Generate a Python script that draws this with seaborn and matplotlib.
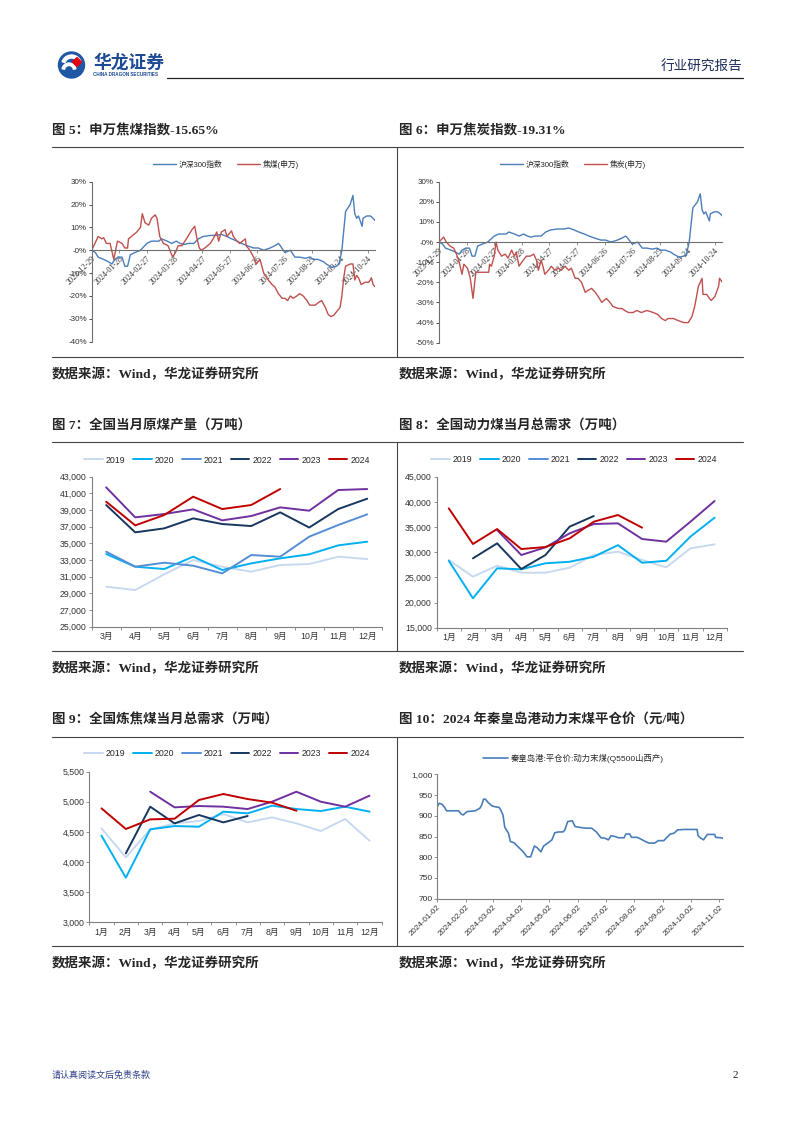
import numpy as np
import pandas as pd
import matplotlib
matplotlib.use('Agg')
import matplotlib.pyplot as plt
import matplotlib.patches as mpatches
from matplotlib.lines import Line2D
from matplotlib.ticker import FuncFormatter, FixedLocator
import seaborn as sns

sns.set_style('ticks')
plt.rcParams['font.family'] = ['Liberation Sans', 'Noto Sans CJK SC', 'DejaVu Sans']
plt.rcParams['axes.unicode_minus'] = False

# ---------------- 数据 ----------------
# 图5/图6: 日期为 2023-12-29 起的天数, 数值为累计涨跌幅(%)
ts_base = '2023-12-29'
ts_ticks = ['2023-12-29', '2024-01-28', '2024-02-27', '2024-03-28', '2024-04-27', '2024-05-27',
            '2024-06-26', '2024-07-26', '2024-08-25', '2024-09-24', '2024-10-24']
hs300_days = [0, 4, 7, 13, 18, 22, 25, 29, 33, 36, 39, 42, 47, 53, 60, 65, 73, 76, 82, 87, 92, 96, 100,
              105, 111, 116, 121, 129, 136, 141, 147, 152, 158, 163, 169, 176, 181, 187, 194, 199, 203,
              205, 210, 216, 221, 226, 232, 237, 241, 246, 252, 255, 261, 266, 269, 272, 276, 281, 284,
              286, 288, 290, 294, 295, 299, 303, 306, 308]
hs300_vals = [0, -1, -3, -4, -5, -6, -4, -3, -3, -7, -7, -2, -1, 0, 3, 4, 4, 5, 4, 3, 4, 3, 2.5,
              3, 3, 5, 6, 6.5, 6.5, 7, 6, 5, 4, 3, 2, 1, 1, 0, 1, 2, 3,
              2, -1, 0, -3, -3, -3.5, -3, -4, -4, -5, -6, -7.5, -7, -6, 0, 17, 20, 24,
              16, 14, 15, 10.5, 14, 15, 15, 14, 13]
jm_days = [0, 7, 11, 13, 16, 20, 24, 28, 33, 36, 39, 40, 49, 53, 55, 58, 62, 65, 69, 71, 74, 78, 83,
           88, 91, 94, 98, 103, 109, 112, 114, 117, 119, 123, 129, 132, 136, 138, 141, 145, 147, 152,
           154, 158, 161, 167, 168, 172, 176, 179, 183, 187, 192, 196, 199, 203, 207, 210, 213, 216,
           219, 223, 226, 230, 234, 237, 243, 246, 250, 254, 257, 260, 263, 266, 270, 272, 274, 276,
           281, 284, 286, 288, 290, 293, 297, 301, 303, 304, 306, 308]
jm_vals = [0, 6, 5, 5.5, 3, 3, -4, 4, 3, 1, 1, 5, 8, 10, 16, 12, 11, 14, 15.5, 14, 6, 3, 2,
           -3, -1, 2, 2, 5, 9, 10.5, 6, 1, 0, 1, 3, 5, 8, 4, 8, 9, 6, 8.5,
           6, 4, 3, 5, 2, 0, -3, -6, -4, -10, -13, -15, -16, -19, -21, -21, -22, -20,
           -21, -20, -19, -20, -22, -24, -24, -23, -22, -25, -28, -29, -28.5, -27, -25, -20, -12, -7,
           -6, -6, -13, -11, -12, -15, -14, -14, -13, -12, -15, -16]
jt_days = [0, 5, 8, 12, 16, 19, 22, 25, 27, 31, 34, 37, 40, 45, 50, 54, 55, 57, 60, 62, 64, 68, 72,
           75, 79, 82, 84, 87, 90, 95, 99, 103, 106, 108, 111, 113, 115, 119, 122, 126, 130, 133,
           137, 141, 144, 148, 151, 155, 159, 162, 166, 170, 173, 177, 182, 186, 189, 195, 199, 202,
           206, 211, 215, 220, 226, 233, 238, 242, 246, 249, 255, 260, 266, 271, 275, 278, 282, 286,
           287, 291, 294, 296, 300, 304, 305, 308]
jt_vals = [0, 2.5, 0, -2, -3, -6, -10, -16, -11, -13, -18, -28, -15, -15, -15, -15, -11, -12, -7, 0,
           -4, -7, -6, -8, -4, -7, -5, -12, -10, -7, -7, -6, -9, -14, -9, -12, -16, -14, -12, -14,
           -13, -14, -12, -14, -13, -18, -18, -20, -25, -24, -23, -25, -27, -30, -28, -30, -32, -33,
           -33, -34, -35, -35, -34, -35, -34, -35, -36, -38, -39, -38, -38, -39, -40, -40, -37, -32,
           -22, -18, -26, -26, -28, -29, -27, -22, -18, -20]

# 图7-图9: 月度数据
years = ['2019', '2020', '2021', '2022', '2023', '2024']
year_colors = ['#c6d9f0', '#00b0f0', '#558ed5', '#17375e', '#7030a0', '#c00000']

months_7 = ['3月', '4月', '5月', '6月', '7月', '8月', '9月', '10月', '11月', '12月']
coal_output = {
    '2019': [29800, 29400, 31280, 33000, 32200, 31600, 32400, 32520, 33400, 33120],
    '2020': [33720, 32200, 31920, 33400, 31800, 32600, 33200, 33680, 34760, 35200],
    '2021': [34000, 32200, 32680, 32320, 31400, 33600, 33400, 35800, 37200, 38480],
    '2022': [39600, 36320, 36800, 38000, 37320, 37080, 38720, 36900, 39120, 40360],
    '2023': [41720, 38120, 38520, 39080, 37760, 38280, 39320, 38920, 41400, 41520],
    '2024': [40000, 37160, 38400, 40600, 39120, 39600, 41520, None, None, None],
}

months_12 = ['1月', '2月', '3月', '4月', '5月', '6月', '7月', '8月', '9月', '10月', '11月', '12月']
thermal_demand = {
    '2019': [28450, 25140, 27320, 25930, 25930, 26930, 29440, 30100, 28450, 27000, 30770, 31560],
    '2020': [28300, 20840, 26800, 26600, 27800, 28100, 29100, 31400, 27900, 28300, 33100, 36860],
    '2021': [None] * 12,
    '2022': [None, 28780, 31760, 26660, 29440, 35070, 37190, None, None, None, None, None],
    '2023': [None, None, 34400, 29440, 30960, 33750, 35600, 35730, 32620, 32090, 36060, 40170],
    '2024': [38710, 31630, 34600, 30630, 31030, 32750, 36060, 37390, 34870, None, None, None],
}
coking_demand = {
    '2019': [4558, 4075, 4541, 4640, 4680, 4796, 4657, 4740, 4640, 4513, 4713, 4353],
    '2020': [4436, 3737, 4541, 4596, 4585, 4835, 4807, 4935, 4879, 4846, 4918, 4835],
    '2021': [None] * 12,
    '2022': [None, 4142, 4918, 4640, 4780, 4657, 4763, None, None, None, None, None],
    '2023': [None, None, 5167, 4907, 4929, 4918, 4879, 5001, 5167, 5001, 4918, 5101],
    '2024': [4890, 4547, 4707, 4718, 5029, 5129, 5045, 4985, 4851, None, None, None],
}

# 图10: 2024-01-02 起的天数, 价格(元/吨)
qhd_base = '2024-01-02'
qhd_ticks = ['2024-01-02', '2024-02-02', '2024-03-02', '2024-04-02', '2024-05-02', '2024-06-02',
             '2024-07-02', '2024-08-02', '2024-09-02', '2024-10-02', '2024-11-02']
qhd_days = [0, 2, 5, 8, 10, 23, 26, 28, 32, 41, 46, 48, 50, 52, 55, 59, 62, 67, 69, 71, 73, 77, 79,
            83, 87, 93, 97, 101, 105, 108, 112, 115, 120, 124, 127, 131, 136, 138, 141, 146, 149,
            154, 161, 167, 172, 177, 181, 185, 188, 192, 196, 202, 204, 208, 210, 216, 220, 225,
            229, 235, 239, 245, 247, 252, 256, 260, 267, 278, 281, 282, 285, 288, 292, 300, 301,
            306, 309]
qhd_price = [922, 930, 928, 920, 912, 912, 904, 902, 910, 912, 918, 926, 940, 940, 932, 924, 922, 920,
             912, 902, 872, 858, 838, 835, 826, 813, 801, 801, 827, 823, 813, 827, 835, 842, 859,
             861, 861, 866, 886, 888, 874, 872, 870, 870, 861, 847, 846, 842, 852, 850, 847, 847,
             856, 856, 848, 848, 844, 838, 834, 834, 840, 840, 845, 856, 858, 866, 867, 867, 867,
             852, 846, 842, 855, 855, 848, 847, 846]

# ---------------- 画布 ----------------
W, H = 802, 1133
fig = plt.figure(figsize=(W / 100, H / 100), dpi=100)


def box(x0, y0, x1, y1):
    return [x0 / W, 1 - y1 / H, (x1 - x0) / W, (y1 - y0) / H]


bg = fig.add_axes([0, 0, 1, 1])
bg.set_xlim(0, W)
bg.set_ylim(H, 0)
bg.axis('off')

serif_cjk = ['Liberation Serif', 'Noto Sans CJK SC']

# 页眉
bg.add_patch(mpatches.Circle((71.5, 65), 13, color='#1f57a5'))
bg.add_patch(mpatches.Wedge((71.5, 65), 10, 200, 340, width=3, color='white'))
bg.add_patch(mpatches.Wedge((69, 70), 7, 190, 350, width=2.5, color='white'))
bg.add_patch(mpatches.RegularPolygon((77, 62), 4, radius=4.5, color='#e60012'))
bg.text(93, 63, '华龙证券', fontsize=12.8, fontweight='bold', color='#1d4a94', va='center',
        family=['Noto Sans CJK SC'])
bg.text(93, 74.5, 'CHINA DRAGON SECURITIES', fontsize=3.3, fontweight='bold', color='#1d4a94', va='center')
bg.plot([167, 743], [77.7, 77.7], color='#222222', lw=0.9)
bg.text(742, 67, '行业研究报告', fontsize=9.8, color='#1f2d5a', ha='right', va='center',
        family=['Noto Sans CJK SC'])

# 页脚
bg.text(52, 1075, '请认真阅读文后免责条款', fontsize=6.5, color='#34448c', va='center', family=['Noto Sans CJK SC'])
bg.text(738, 1075, '2', fontsize=8, color='#222222', ha='right', va='center', family=serif_cjk)

# 表格线、标题、来源
rows = [(131, 146.7, 357, 374), (425, 442, 651, 668), (720, 736.5, 946, 963)]
titles = [('图 5：申万焦煤指数-15.65%', '图 6：申万焦炭指数-19.31%'),
          ('图 7：全国当月原煤产量（万吨）', '图 8：全国动力煤当月总需求（万吨）'),
          ('图 9：全国炼焦煤当月总需求（万吨）', '图 10：2024 年秦皇岛港动力末煤平仓价（元/吨）')]
for (ty, top, bot, sy), (t1, t2) in zip(rows, titles):
    bg.plot([52, 743], [top, top], color='#444444', lw=0.8)
    bg.plot([52, 743], [bot, bot], color='#444444', lw=0.8)
    bg.plot([397, 397], [top, bot], color='#444444', lw=0.8)
    bg.text(52, ty, t1, fontsize=9.7, fontweight='bold', va='center', family=serif_cjk)
    bg.text(399, ty, t2, fontsize=9.7, fontweight='bold', va='center', family=serif_cjk)
    bg.text(52, sy, '数据来源：Wind，华龙证券研究所', fontsize=9.7, fontweight='bold', va='center', family=serif_cjk)
    bg.text(399, sy, '数据来源：Wind，华龙证券研究所', fontsize=9.7, fontweight='bold', va='center', family=serif_cjk)

axis_gray = '#7f7f7f'
tick_color = '#333333'


def legend_at(ax, handles, labels, cx, cy, ncol, fs=5, hl=3.0, cs=1.6):
    ax.legend(handles, labels, loc='center', bbox_to_anchor=(cx / W, 1 - cy / H),
              bbox_transform=fig.transFigure, ncol=ncol, frameon=False, fontsize=fs,
              handlelength=hl, columnspacing=cs, handletextpad=0.35, borderpad=0)


# ---------------- 图5 / 图6 ----------------
def index_chart(rect, red_days, red_vals, red_label, ylo, yticks, leg_cx):
    ax = fig.add_axes(rect)
    ax.set_facecolor('none')
    base = pd.Timestamp(ts_base)
    blue = pd.DataFrame({'date': base + pd.to_timedelta(hs300_days, unit='D'),
                         'v': np.array(hs300_vals) / 100})
    red = pd.DataFrame({'date': base + pd.to_timedelta(red_days, unit='D'),
                        'v': np.array(red_vals) / 100})
    sns.lineplot(data=blue, x='date', y='v', ax=ax, color='#4a7ebb', lw=1.0, legend=False)
    sns.lineplot(data=red, x='date', y='v', ax=ax, color='#c0504d', lw=1.0, legend=False)
    ax.set_xlim(base, base + pd.Timedelta(days=308))
    ax.set_ylim(ylo, 0.30)
    ax.set_xlabel('')
    ax.set_ylabel('')
    for s in ['top', 'right']:
        ax.spines[s].set_visible(False)
    ax.spines['bottom'].set_position(('data', 0))
    ax.spines['bottom'].set_color('#6f6f6f')
    ax.spines['left'].set_color('#6f6f6f')
    ax.spines['bottom'].set_linewidth(0.8)
    ax.spines['left'].set_linewidth(0.8)
    ticks = pd.to_datetime(ts_ticks)
    ax.set_xticks(ticks)
    ax.set_xticklabels(ts_ticks, rotation=45, ha='right', va='top', rotation_mode='anchor',
                       fontsize=5.8, color=tick_color, family=serif_cjk)
    ax.set_yticks(yticks)
    ax.yaxis.set_major_formatter(FuncFormatter(lambda v, p: f'{v * 100:.0f}%'))
    ax.tick_params(axis='y', labelsize=5.8, colors=tick_color, length=2, width=0.6, pad=1.5)
    ax.tick_params(axis='x', length=2, width=0.6, pad=1, color=axis_gray)
    handles = [Line2D([], [], color='#4a7ebb', lw=1.0), Line2D([], [], color='#c0504d', lw=1.0)]
    legend_at(ax, handles, ['沪深300指数', red_label], leg_cx, 164, 2, fs=5.6, hl=3.0, cs=1.8)
    return ax


index_chart(box(91.7, 181.7, 375, 341.7), jm_days, jm_vals, '焦煤(申万)', -0.40,
            np.arange(-0.4, 0.31, 0.1), 226)
index_chart(box(439, 181.7, 722.3, 342.7), jt_days, jt_vals, '焦炭(申万)', -0.50,
            np.arange(-0.5, 0.31, 0.1), 573)


# ---------------- 图7 / 图8 / 图9 ----------------
def month_chart(rect, months, series, ylim, ystep, leg_cx, leg_cy):
    ax = fig.add_axes(rect)
    ax.set_facecolor('none')
    for yr, col in zip(years, year_colors):
        df = pd.DataFrame({'m': np.arange(len(months)), 'v': series[yr]}).dropna()
        if len(df):
            sns.lineplot(data=df, x='m', y='v', ax=ax, color=col, lw=1.4, legend=False)
    ax.set_xlim(-0.5, len(months) - 0.5)
    ax.set_ylim(*ylim)
    ax.set_xlabel('')
    ax.set_ylabel('')
    for s in ['top', 'right']:
        ax.spines[s].set_visible(False)
    for s in ['left', 'bottom']:
        ax.spines[s].set_color(axis_gray)
        ax.spines[s].set_linewidth(0.8)
    ax.set_xticks(np.arange(len(months)))
    ax.set_xticklabels(months, fontsize=6.3, color=tick_color)
    ax.xaxis.set_minor_locator(FixedLocator(np.arange(-0.5, len(months), 1.0)))
    ax.tick_params(axis='x', which='major', length=0, pad=4)
    ax.tick_params(axis='x', which='minor', length=2.5, width=0.6, color=axis_gray)
    ax.set_yticks(np.arange(ylim[0], ylim[1] + 1, ystep))
    ax.yaxis.set_major_formatter(FuncFormatter(lambda v, p: f'{v:,.0f}'))
    ax.tick_params(axis='y', labelsize=6.3, colors=tick_color, length=2, width=0.6, pad=1.5)
    ax.tick_params(axis='y', color=axis_gray)
    handles = [Line2D([], [], color=c, lw=1.4) for c in year_colors]
    legend_at(ax, handles, years, leg_cx, leg_cy, 6, fs=6.3, hl=2.1, cs=0.9)
    return ax


month_chart(box(91.7, 476.7, 381.7, 626.7), months_7, coal_output, (25000, 43000), 2000, 227, 460)
month_chart(box(436.7, 476.7, 726.7, 627.7), months_12, thermal_demand, (15000, 45000), 5000, 574, 459.5)
month_chart(box(89.3, 771.7, 381.7, 922), months_12, coking_demand, (3000, 5500), 500, 227, 754)

# ---------------- 图10 ----------------
ax = fig.add_axes(box(437.3, 774.3, 723, 898.7))
ax.set_facecolor('none')
qbase = pd.Timestamp(qhd_base)
qdf = pd.DataFrame({'date': qbase + pd.to_timedelta(qhd_days, unit='D'), 'v': qhd_price})
sns.lineplot(data=qdf, x='date', y='v', ax=ax, color='#4a7ebb', lw=1.2, legend=False)
ax.set_xlim(qbase, qbase + pd.Timedelta(days=309))
ax.set_ylim(700, 1000)
ax.set_xlabel('')
ax.set_ylabel('')
for s in ['top', 'right']:
    ax.spines[s].set_visible(False)
for s in ['left', 'bottom']:
    ax.spines[s].set_color(axis_gray)
    ax.spines[s].set_linewidth(0.8)
ax.set_xticks(pd.to_datetime(qhd_ticks))
ax.set_xticklabels(qhd_ticks, rotation=45, ha='right', va='top', rotation_mode='anchor',
                   fontsize=5.8, color=tick_color)
ax.set_yticks(np.arange(700, 1001, 50))
ax.yaxis.set_major_formatter(FuncFormatter(lambda v, p: f'{v:,.0f}'))
ax.tick_params(axis='y', labelsize=6.0, colors=tick_color, length=2, width=0.6, pad=1.5)
ax.tick_params(axis='both', color=axis_gray)
ax.tick_params(axis='x', length=2, width=0.6, pad=1.5)
legend_at(ax, [Line2D([], [], color='#4a7ebb', lw=1.2)], ['秦皇岛港:平仓价:动力末煤(Q5500山西产)'],
          573, 758.5, 1, fs=6.0, hl=3.0)

fig.savefig('out.png', dpi=100, facecolor='white')
